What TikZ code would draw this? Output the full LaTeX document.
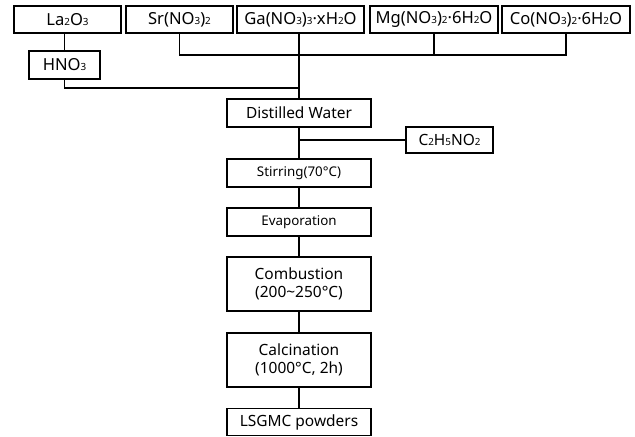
\documentclass[tikz,border=0pt]{standalone}
\usepackage{fontspec}
\setmainfont{Noto Sans}
\usepackage{tikz}
\newcommand{\ix}[1]{{\fontsize{7}{8}\selectfont #1}}

\begin{document}
\begin{tikzpicture}[x=0.025cm,y=-0.025cm,
  box/.style={draw,line width=1.4pt,inner sep=0pt,align=center,font=\fontsize{11}{13}\selectfont},
  tbox/.style={box,font=\fontsize{11.8}{13}\selectfont},
  sbox/.style={box,font=\fontsize{9.5}{11}\selectfont},
  lnk/.style={line width=0.8pt}]
\useasboundingbox (0,0) rectangle (635,436);
% starting materials
\node[tbox,minimum width=107*0.025cm,minimum height=27*0.025cm] (la) at (67.5,19.5) {La\ix{2}O\ix{3}};
\node[tbox,minimum width=107*0.025cm,minimum height=27*0.025cm] (sr) at (179.5,19.5) {Sr(NO\ix{3})\ix{2}};
\node[tbox,minimum width=127*0.025cm,minimum height=27*0.025cm] (ga) at (300.5,19.5) {Ga(NO\ix{3})\ix{3}·xH\ix{2}O};
\node[tbox,minimum width=128*0.025cm,minimum height=27*0.025cm] (mg) at (434,19.5) {Mg(NO\ix{3})\ix{2}·6H\ix{2}O};
\node[tbox,minimum width=128*0.025cm,minimum height=27*0.025cm] (co) at (566,19.5) {Co(NO\ix{3})\ix{2}·6H\ix{2}O};
\node[tbox,minimum width=71*0.025cm,minimum height=28*0.025cm] (hno) at (64.5,65) {HNO\ix{3}};
% process steps
\node[box,minimum width=144*0.025cm,minimum height=28*0.025cm] (dw) at (299,113) {Distilled Water};
\node[box,minimum width=87*0.025cm,minimum height=26*0.025cm] (gly) at (449.5,140) {C\ix{2}H\ix{5}NO\ix{2}};
\node[sbox,minimum width=144*0.025cm,minimum height=28*0.025cm] (st) at (299,173) {Stirring(70°C)};
\node[sbox,minimum width=144*0.025cm,minimum height=28*0.025cm] (ev) at (299,222) {Evaporation};
\node[box,minimum width=144*0.025cm,minimum height=54*0.025cm] (cb) at (299,284) {Combustion\\(200\textasciitilde250°C)};
\node[box,minimum width=144*0.025cm,minimum height=54*0.025cm] (cc) at (299,360) {Calcination\\(1000°C, 2h)};
\node[box,minimum width=144*0.025cm,minimum height=27*0.025cm] (pw) at (299,422) {LSGMC powders};
% connectors
\coordinate (j1) at (299,88);
\coordinate (j2) at (299,55);
\draw[lnk] (la.south -| hno.north) -- (hno.north);
\draw[lnk] (hno.south) |- (j1);
\draw[lnk] (sr.south) |- (j2) -| (co.south);
\draw[lnk] (mg.south) -- (mg.south |- j2);
\draw[lnk] (ga.south -| dw.north) -- (dw.north);
\draw[lnk] (dw.south) -- (st.north);
\draw[lnk] (gly.west) -- (gly.west -| dw.south);
\draw[lnk] (st.south) -- (ev.north);
\draw[lnk] (ev.south) -- (cb.north);
\draw[lnk] (cb.south) -- (cc.north);
\draw[lnk] (cc.south) -- (pw.north);
\end{tikzpicture}
\end{document}
